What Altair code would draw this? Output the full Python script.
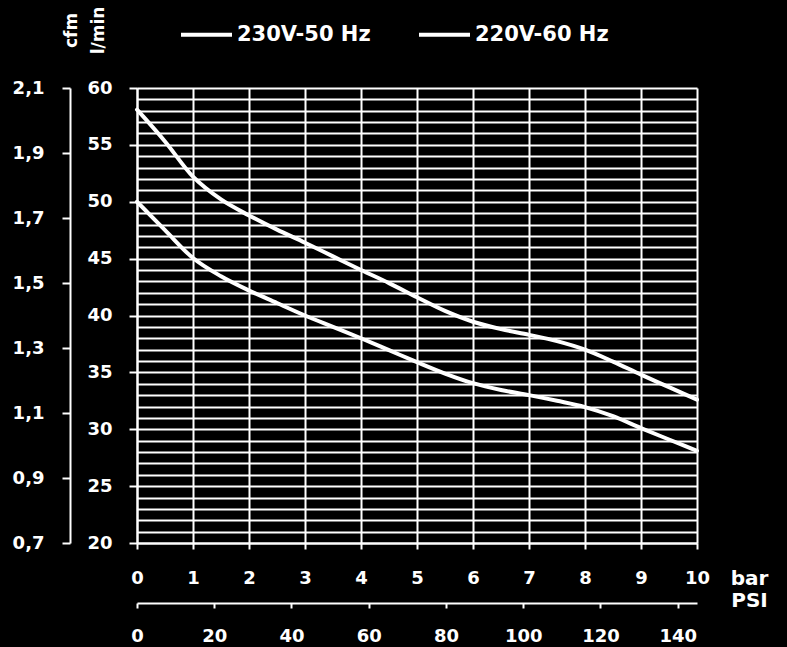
import altair as alt
import pandas as pd

# ---- data ----
bar_pressure = [0, 0.5, 1, 1.5, 2, 2.5, 3, 3.5, 4, 4.5, 5, 5.5, 6, 6.5, 7, 7.5, 8, 8.5, 9, 9.5, 10]
flow_220v_60hz = [58.1, 55.3, 52.2, 50.2, 48.8, 47.55, 46.4, 45.2, 44.0, 42.85, 41.6, 40.4, 39.45,
                  38.8, 38.3, 37.75, 37.0, 35.95, 34.8, 33.7, 32.6]
flow_230v_50hz = [50.0, 47.5, 45.05, 43.45, 42.2, 41.1, 40.0, 39.0, 38.0, 36.95, 35.9, 34.9, 34.05,
                  33.45, 33.0, 32.5, 31.95, 31.15, 30.1, 29.1, 28.1]
series_names = ["230V-50 Hz", "220V-60 Hz"]

bar_ticks = [0, 1, 2, 3, 4, 5, 6, 7, 8, 9, 10]
psi_ticks = [0, 20, 40, 60, 80, 100, 120, 140]
lmin_grid = list(range(20, 61))
cfm_ticks = [0.7, 0.9, 1.1, 1.3, 1.5, 1.7, 1.9, 2.1]

FONT = "DejaVu Sans"

df = pd.DataFrame({
    "bar": bar_pressure + bar_pressure,
    "flow": flow_230v_50hz + flow_220v_60hz,
    "series": [series_names[0]] * len(bar_pressure) + [series_names[1]] * len(bar_pressure),
})

common_axis = dict(
    labelFont=FONT, labelFontSize=18, labelFontWeight="bold", labelColor="white",
    titleFont=FONT, titleFontWeight="bold", titleColor="white",
    domainColor="white", domainWidth=2, tickColor="white", tickWidth=2,
    labelFlush=False, labelOverlap=False,
)

lines = alt.Chart(df).mark_line(interpolate="monotone", strokeWidth=4, strokeCap="round").encode(
    x=alt.X("bar:Q", scale=alt.Scale(domain=[0, 10], nice=False),
            axis=alt.Axis(values=bar_ticks, grid=True, gridColor="white", gridWidth=2, gridOpacity=1,
                          tickSize=6, labelPadding=29, labelBaseline="middle",
                          title="bar", titleFontSize=20, titleAngle=0, titleAlign="center",
                          titleBaseline="middle", titleX=612, titleY=35, **common_axis)),
    y=alt.Y("flow:Q", scale=alt.Scale(domain=[20, 60], nice=False, zero=False),
            axis=alt.Axis(values=lmin_grid, grid=True, gridColor="white", gridWidth=2, gridOpacity=1,
                          tickSize=8, labelPadding=17,
                          tickOpacity=alt.expr("datum.value % 5 === 0 ? 1 : 0"),
                          labelExpr="datum.value % 5 === 0 ? datum.label : ''",
                          title="l/min", titleFontSize=17, titleAngle=270, titleAlign="center",
                          titleBaseline="middle", titleX=-39, titleY=-58, **common_axis)),
    color=alt.Color("series:N", scale=alt.Scale(domain=series_names, range=["white", "white"]),
                    legend=alt.Legend(orient="none", legendX=42, legendY=-81, direction="horizontal",
                                      title=None, symbolType="stroke", symbolSize=2601,
                                      symbolStrokeWidth=4, labelFont=FONT, labelFontSize=21,
                                      labelFontWeight="bold", labelColor="white", labelOffset=3,
                                      columnPadding=40, padding=0)),
)

psi_layer = alt.Chart(pd.DataFrame({"psi": psi_ticks})).mark_point(opacity=0).encode(
    x=alt.X("psi:Q", scale=alt.Scale(domain=[0, 145], nice=False),
            axis=alt.Axis(orient="bottom", offset=60, values=psi_ticks, grid=False,
                          tickSize=5, labelPadding=28, labelBaseline="middle",
                          title="PSI", titleFontSize=20, titleAngle=0, titleAlign="center",
                          titleBaseline="middle", titleX=612, titleY=-3, **common_axis)),
)

cfm_layer = alt.Chart(pd.DataFrame({"cfm": cfm_ticks})).mark_point(opacity=0).encode(
    y=alt.Y("cfm:Q", scale=alt.Scale(domain=[0.7, 2.1], nice=False, zero=False),
            axis=alt.Axis(orient="left", offset=67, values=cfm_ticks, grid=False,
                          tickSize=8, labelPadding=18,
                          labelExpr="replace(format(datum.value, '.1f'), '.', ',')",
                          title="cfm", titleFontSize=17, titleAngle=270, titleAlign="center",
                          titleBaseline="middle", titleX=1, titleY=-58, **common_axis)),
)

chart = alt.layer(lines, psi_layer, cfm_layer).resolve_scale(
    x="independent", y="independent"
).properties(
    width=560, height=455, background="black",
    autosize=alt.AutoSizeParams(type="none"),
    padding={"left": 137, "top": 88, "right": 90, "bottom": 104},
).configure_view(strokeWidth=0)

chart.save("out.html", embed_options={"renderer": "svg", "actions": False})
